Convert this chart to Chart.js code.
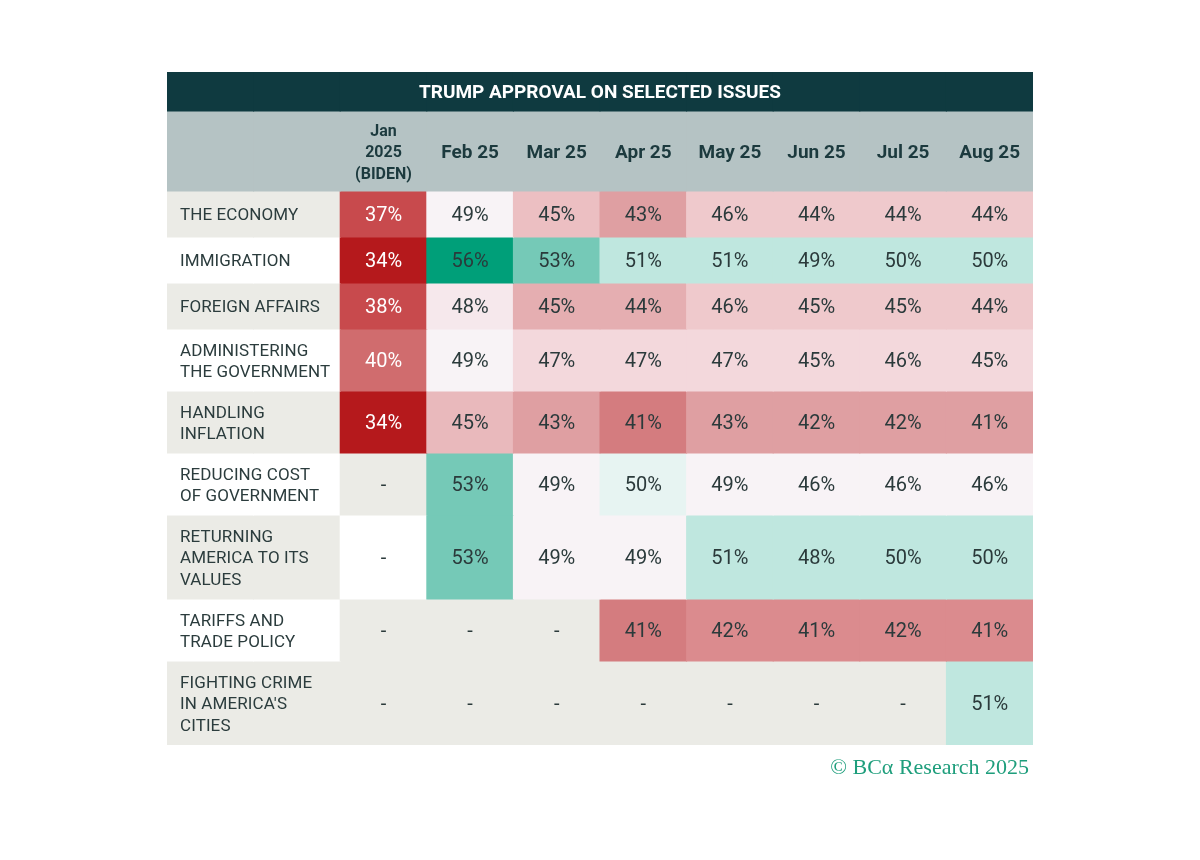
<!DOCTYPE html>
<html><head><meta charset="utf-8">
<script src="https://cdn.jsdelivr.net/npm/chart.js@4.4.1/dist/chart.umd.min.js"></script>
<style>html,body{margin:0;padding:0;background:#fff;}#wrap{position:relative;width:1200px;height:860px;}</style>
</head><body><div id="wrap"><canvas id="c" width="1200" height="860"></canvas></div>
<script>
// ---------- DATA ----------
const chartTitle = 'TRUMP APPROVAL ON SELECTED ISSUES';
const months = [['Jan', '2025', '(BIDEN)'], ['Feb 25'], ['Mar 25'], ['Apr 25'], ['May 25'], ['Jun 25'], ['Jul 25'], ['Aug 25']];
const issues = [
  ['THE ECONOMY'],
  ['IMMIGRATION'],
  ['FOREIGN AFFAIRS'],
  ['ADMINISTERING', 'THE GOVERNMENT'],
  ['HANDLING', 'INFLATION'],
  ['REDUCING COST', 'OF GOVERNMENT'],
  ['RETURNING', 'AMERICA TO ITS', 'VALUES'],
  ['TARIFFS AND', 'TRADE POLICY'],
  ['FIGHTING CRIME', "IN AMERICA'S", 'CITIES']
];
const economy        = [37, 49, 45, 43, 46, 44, 44, 44];
const immigration    = [34, 56, 53, 51, 51, 49, 50, 50];
const foreignAffairs = [38, 48, 45, 44, 46, 45, 45, 44];
const administering  = [40, 49, 47, 47, 47, 45, 46, 45];
const inflation      = [34, 45, 43, 41, 43, 42, 42, 41];
const reducingCost   = [null, 53, 49, 50, 49, 46, 46, 46];
const returningUS    = [null, 53, 49, 49, 51, 48, 50, 50];
const tariffs        = [null, null, null, 41, 42, 41, 42, 41];
const fightingCrime  = [null, null, null, null, null, null, null, 51];
const values = [economy, immigration, foreignAffairs, administering, inflation, reducingCost, returningUS, tariffs, fightingCrime];
const footer = '\u00A9 BC\u03B1 Research 2025';

// ---------- STYLE ----------
// heat shade of each cell (key into palette)
const shades = [
  ['r8', 'w',  'p2', 'r4', 'p1', 'p1', 'p1', 'p1'],
  ['r9', 't3', 't2', 't1', 't1', 't1', 't1', 't1'],
  ['r8', 'p0', 'r3', 'r3', 'p1', 'p1', 'p1', 'p1'],
  ['r7', 'w',  'pa', 'pa', 'pa', 'pa', 'pa', 'pa'],
  ['r9', 'r2', 'r4', 'r6', 'r4', 'r4', 'r4', 'r4'],
  ['nG', 't2', 'w',  't0', 'w',  'w',  'w',  'w'],
  ['nW', 't2', 'w',  'w',  't1', 't1', 't1', 't1'],
  ['nG', 'nG', 'nG', 'r6', 'r5', 'r5', 'r5', 'r5'],
  ['nG', 'nG', 'nG', 'nG', 'nG', 'nG', 'nG', 't1']
];
const palette = {
  r9: '#b5191c', r8: '#c84a4d', r7: '#d06c6e', r6: '#d47c7f', r5: '#db8b8e', r4: '#df9fa2',
  r3: '#e5aeb1', r2: '#e9b9bc', p2: '#ecbfc2', p1: '#efc9cc', pa: '#f3d8dc', p0: '#f6e8ec',
  w: '#f8f3f6', t0: '#e7f4f2', t1: '#bfe7df', t2: '#75c9b7', t3: '#009f79', nG: '#ebebe6', nW: '#ffffff'
};
const whiteText = ['r9', 'r8', 'r7'];
const labelBg = ['#ebebe6', '#ffffff'];
const TITLE_BG = '#0f3a40', HEADER_BG = '#b5c3c4';
const TITLE_H = 39, HEADER_H = 80, ROW_H = {1: 46, 2: 62, 3: 84};
const FONT = 'Roboto, "Noto Sans", sans-serif';
const DY = 2; // optical vertical centring of text

// ---------- BUILD ----------
const xLabels = ['label-a', 'label-b'].concat(months.map(m => m.join(' ')));
const bands = [TITLE_H, HEADER_H].concat(issues.map(l => ROW_H[l.length]));
const edges = [0];
bands.forEach(h => edges.push(edges[edges.length - 1] + h));
const total = edges[edges.length - 1];

const datasets = bands.map((h, b) => {
  const span = [edges[b], edges[b + 1]];
  let colors;
  if (b === 0) colors = xLabels.map(() => TITLE_BG);
  else if (b === 1) colors = xLabels.map(() => HEADER_BG);
  else {
    const r = b - 2;
    colors = [labelBg[r % 2], labelBg[r % 2]].concat(shades[r].map(k => palette[k]));
  }
  return {
    data: xLabels.map(() => span),
    backgroundColor: colors,
    borderWidth: 0,
    inflateAmount: 0.5,
    grouped: false,
    barPercentage: 1,
    categoryPercentage: 1
  };
});

function drawLines(ctx, lines, x, cy, lh) {
  const n = lines.length;
  lines.forEach((t, i) => ctx.fillText(t, x, cy + (i - (n - 1) / 2) * lh));
}

const textPlugin = {
  id: 'tableText',
  afterDatasetsDraw(chart) {
    const ctx = chart.ctx;
    ctx.save();
    ctx.textBaseline = 'middle';
    // title
    const t0 = chart.getDatasetMeta(0).data;
    const tl = t0[0].x - t0[0].width / 2, tr = t0[9].x + t0[9].width / 2;
    ctx.fillStyle = '#ffffff';
    ctx.font = 'bold 19px ' + FONT;
    ctx.letterSpacing = '0px';
    ctx.textAlign = 'center';
    ctx.fillText(chartTitle, (tl + tr) / 2, (t0[0].y + t0[0].base) / 2 + DY);
    // header
    const h = chart.getDatasetMeta(1).data;
    ctx.fillStyle = '#1c3a3e';
    months.forEach((m, j) => {
      const bar = h[j + 2];
      const cy = (bar.y + bar.base) / 2 + DY;
      if (m.length > 1) { ctx.font = 'bold 16px ' + FONT; drawLines(ctx, m, bar.x, cy, 21.5); }
      else { ctx.font = 'bold 19px ' + FONT; ctx.fillText(m[0], bar.x, cy); }
    });
    // rows
    issues.forEach((lines, r) => {
      const bars = chart.getDatasetMeta(r + 2).data;
      const lb = bars[0];
      const cy = (lb.y + lb.base) / 2 + DY;
      ctx.textAlign = 'left';
      ctx.fillStyle = '#2b3c3d';
      ctx.font = '17px ' + FONT;
      ctx.letterSpacing = '0.1px';
      drawLines(ctx, lines, lb.x - lb.width / 2 + 13, cy, 21.5);
      ctx.letterSpacing = '0px';
      ctx.textAlign = 'center';
      ctx.font = '20px ' + FONT;
      values[r].forEach((v, j) => {
        const bar = bars[j + 2];
        ctx.fillStyle = whiteText.includes(shades[r][j]) ? '#ffffff' : '#2b3a3b';
        ctx.fillText(v === null ? '-' : v + '%', bar.x, cy);
      });
    });
    // footer
    const area = chart.chartArea;
    ctx.textAlign = 'right';
    ctx.textBaseline = 'alphabetic';
    ctx.fillStyle = '#1e9e7c';
    ctx.font = '22px "Liberation Serif", "DejaVu Serif", serif';
    ctx.fillText(footer, area.right - 4, area.bottom + 29);
    ctx.restore();
  }
};

new Chart(document.getElementById('c'), {
  type: 'bar',
  data: { labels: xLabels, datasets },
  options: {
    responsive: false,
    animation: false,
    events: [],
    layout: { padding: { left: 167, right: 167, top: 72, bottom: 115 } },
    plugins: { legend: { display: false }, tooltip: { enabled: false }, title: { display: false } },
    scales: {
      x: { type: 'category', display: false, offset: true, grid: { display: false } },
      y: { type: 'linear', display: false, min: 0, max: total, reverse: true, grid: { display: false } }
    }
  },
  plugins: [textPlugin]
});
</script></body></html>
